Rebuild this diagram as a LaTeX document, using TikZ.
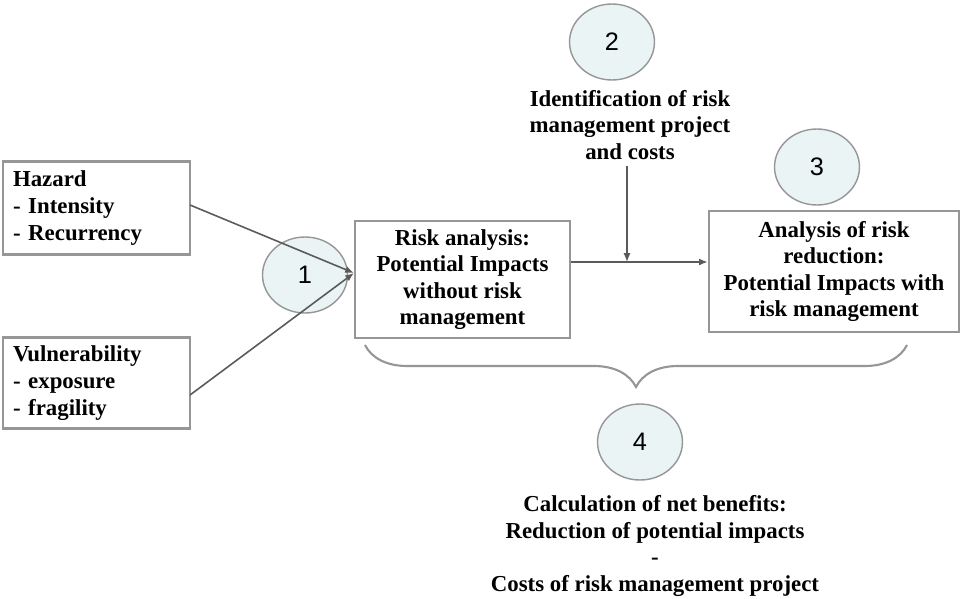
\documentclass[tikz,border=0pt]{standalone}
\usepackage{fontspec}
\setmainfont{Liberation Serif}
\setsansfont{Liberation Sans}
\usetikzlibrary{arrows.meta,shapes.geometric,decorations.pathreplacing}

\definecolor{boxgray}{RGB}{150,150,150}
\definecolor{linegray}{RGB}{90,90,90}
\definecolor{stepfill}{RGB}{234,244,244}

\begin{document}
\begin{tikzpicture}[x=0.02cm,y=-0.02cm,
    font=\fontsize{13}{15}\selectfont\bfseries,
    factorbox/.style={draw=boxgray,line width=1.4pt,minimum width=3.74cm,text width=3.34cm,align=left,
        inner xsep=0.2cm,inner ysep=0pt,font=\fontsize{13}{15.6}\selectfont\bfseries},
    stagebox/.style={draw=boxgray,line width=1.4pt,align=center,inner sep=0pt},
    stepmark/.style={draw=boxgray,fill=stepfill,ellipse,line width=0.8pt,minimum width=1.7cm,minimum height=1.52cm,font=\sffamily\Large},
    link/.style={draw=linegray,line width=0.9pt,-{Latex[length=5pt,width=4pt]}}]
    \useasboundingbox (0,0) rectangle (965,599);

    % input factors
    \node[factorbox,minimum height=1.86cm] (hazard) at (96.5,208)
        {Hazard\\- Intensity\\- Recurrency};
    \node[factorbox,minimum height=1.82cm] (vulner) at (96.5,383)
        {Vulnerability\\- exposure\\- fragility};

    % analysis stages
    \node[stagebox,minimum width=4.3cm,minimum height=2.34cm] (riskan) at (462.5,279.5)
        {Risk analysis:\\Potential Impacts\\without risk\\management};
    \node[stagebox,minimum width=5cm,minimum height=2.42cm] (reduct) at (834,271.5)
        {Analysis of risk\\reduction:\\Potential Impacts with\\risk management};

    % step numbers
    \node[stepmark] (one) at (305,275) {1};
    \node[stepmark] (two) at (612,42) {2};
    \node[stepmark] (three) at (817,167) {3};
    \node[stepmark] (four) at (640,442) {4};

    % texts
    \node[align=center] (project) at (630,125)
        {Identification of risk\\management project\\and costs};
    \node[align=center] (benefit) at (655,546)
        {Calculation of net benefits:\\Reduction of potential impacts\\-\\Costs of risk management project};

    \coordinate (hazout) at (190,205);
    \coordinate (vulout) at (190,395);
    \coordinate (riskin) at (354,273);
    \coordinate (join) at (627,262);
    \coordinate (bracel) at (365,345);
    \coordinate (bracer) at (907,345);

    % connectors
    \draw[link] (hazout) -- (riskin);
    \draw[link] (vulout) -- (riskin);
    \draw[link] (riskan.east |- join) -- (reduct.west |- join);
    \draw[link] (project.south -| join) -- (join);
    \draw[draw=boxgray,line width=1.2pt,decorate,decoration={brace,mirror,amplitude=0.84cm}]
        (bracel) -- (bracer);
\end{tikzpicture}
\end{document}
